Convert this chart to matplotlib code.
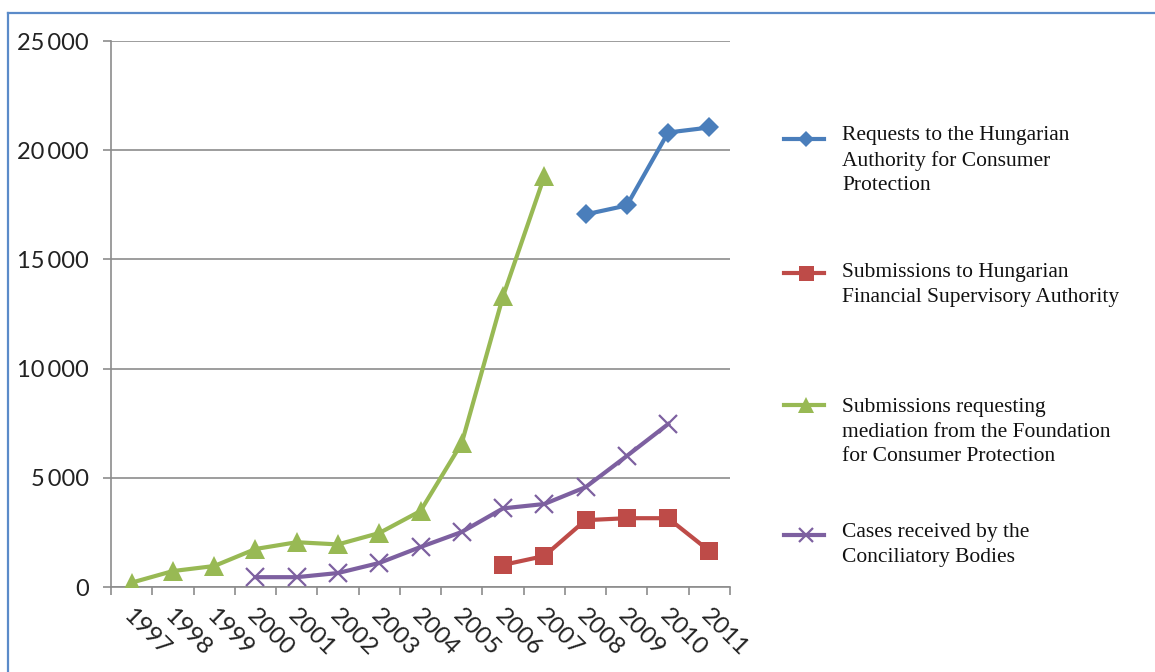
import matplotlib
matplotlib.use("Agg")
import matplotlib.pyplot as plt
from matplotlib.lines import Line2D
import numpy as np

years = ["1997", "1998", "1999", "2000", "2001", "2002", "2003", "2004",
         "2005", "2006", "2007", "2008", "2009", "2010", "2011"]
nan = np.nan
hacp = [nan, nan, nan, nan, nan, nan, nan, nan, nan, nan, nan, 17060, 17470, 20810, 21040]
hfsa = [nan, nan, nan, nan, nan, nan, nan, nan, nan, 1010, 1420, 3060, 3150, 3150, 1650]
fcp = [200, 730, 960, 1740, 2050, 1950, 2470, 3480, 6590, 13310, 18800, nan, nan, nan, nan]
conc = [nan, nan, nan, 450, 450, 640, 1100, 1830, 2520, 3600, 3800, 4570, 6000, 7460, nan]

labels = ["Requests to the Hungarian\nAuthority for Consumer\nProtection",
          "Submissions to Hungarian\nFinancial Supervisory Authority",
          "Submissions requesting\nmediation from the Foundation\nfor Consumer Protection",
          "Cases received by the\nConciliatory Bodies"]
yticks = [0, 5000, 10000, 15000, 20000, 25000]
ytick_labels = ["0", "5\u2009000", "10\u2009000", "15\u2009000", "20\u2009000", "25\u2009000"]

colors = ["#4a7ebb", "#be4b48", "#98b954", "#7d60a0"]

W, H = 1155, 672
fig = plt.figure(figsize=(W / 100, H / 100), dpi=100)
fig.patch.set_facecolor("white")

# outer frame
fig.add_artist(Line2D([8 / W, 8 / W], [0, 1 - 13 / H], color="#5b8bc9", lw=1.6, transform=fig.transFigure))
fig.add_artist(Line2D([8 / W, 1], [1 - 13 / H, 1 - 13 / H], color="#5b8bc9", lw=1.6, transform=fig.transFigure))

ax = fig.add_axes([111 / W, 1 - 587 / H, (730 - 111) / W, (587 - 41) / H])
x = np.arange(len(years))

series = [hacp, hfsa, fcp, conc]
markers = ["D", "s", "^", "x"]
msizes = [10, 13.5, 15, 13]
for s, c, m, ms in zip(series, colors, markers, msizes):
    kw = dict(color=c, lw=3, marker=m, markersize=ms, zorder=3)
    if m == "x":
        kw.update(markeredgewidth=1.6)
    else:
        kw.update(markeredgewidth=0)
    ax.plot(x, s, **kw)

ax.set_xlim(-0.5, len(years) - 0.5)
ax.set_ylim(0, 25000)
ax.set_yticks(yticks)
ax.set_yticklabels(ytick_labels, fontfamily=["Lato", "DejaVu Sans"], fontsize=17, color="#222222")
ax.yaxis.grid(True, color="#8c8c8c", lw=1.2)
ax.set_axisbelow(True)
for sp in ["top", "right"]:
    ax.spines[sp].set_visible(False)
for sp in ["left", "bottom"]:
    ax.spines[sp].set_color("#8c8c8c")
    ax.spines[sp].set_linewidth(1.2)
ax.tick_params(axis="y", length=6, width=1.2, color="#8c8c8c", pad=10)

# category boundary ticks
ax.set_xticks(np.arange(-0.5, len(years) + 0.5, 1))
ax.set_xticklabels([])
ax.tick_params(axis="x", length=6, width=1.2, color="#8c8c8c")
for i, yr in enumerate(years):
    ax.text(i - 0.12, -1150, yr, rotation=-45, rotation_mode="anchor",
            ha="left", va="center", fontfamily="Lato", fontsize=17.5,
            color="#222222", transform=ax.transData, clip_on=False)

# manual legend
leg_y = [139, 273, 405, 535]
text_top = [126, 263, 398, 523]
for c, m, ms, ly, ty, lab in zip(colors, markers, msizes, leg_y, text_top, labels):
    yf = 1 - ly / H
    fig.add_artist(Line2D([784 / W, 824 / W], [yf, yf], color=c, lw=3,
                          transform=fig.transFigure))
    kw = dict(color=c, marker=m, markersize=ms * 0.8, linestyle="none",
              transform=fig.transFigure)
    if m == "x":
        kw.update(markeredgewidth=1.6)
    else:
        kw.update(markeredgewidth=0)
    fig.add_artist(Line2D([806 / W], [yf], **kw))
    fig.text(842 / W, 1 - ty / H, lab, fontfamily="Liberation Serif",
             fontsize=15.5, color="#111111", va="top", ha="left",
             linespacing=1.4)

fig.savefig("out.png", dpi=100)
